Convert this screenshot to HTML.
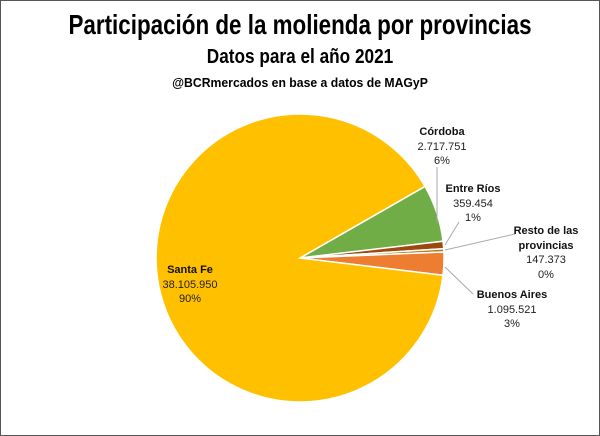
<!DOCTYPE html>
<html><head><meta charset="utf-8"><style>
body{margin:0;background:#fff}
.f{position:relative;width:598px;height:434px;border:1px solid #555;overflow:hidden;font-family:"Liberation Sans",sans-serif}
.t{position:absolute;left:0;width:598px;text-align:center;font-weight:bold;color:#000;font-family:"Liberation Sans Narrow","Liberation Sans",sans-serif}
.l{position:absolute;text-align:center;font-size:11px;line-height:14.5px;color:#222;width:120px}
.l b{color:#111}
</style></head><body><div class="f">
<div class="t" style="top:8px;font-size:28px;transform:scaleX(0.80)">Participación de la molienda por provincias</div>
<div class="t" style="top:45px;font-size:20px;transform:scaleX(0.86)">Datos para el año 2021</div>
<div class="t" style="top:74px;font-size:13px;transform:scaleX(0.94)">@BCRmercados en base a datos de MAGyP</div>
<svg width="598" height="434" style="position:absolute;left:0;top:0">
<g stroke="#fff" stroke-width="1.5">
<path d="M299,257 L424,185.4 A144,144 0 0 1 442,240.2 Z" fill="#70AD47"/>
<path d="M299,257 L442,240.2 A144,144 0 0 1 442.7,247.7 Z" fill="#9E480E"/>
<path d="M299,257 L442.7,247.7 A144,144 0 0 1 442.9,251 Z" fill="#B08020"/>
<path d="M299,257 L442.9,251 A144,144 0 0 1 442,274.3 Z" fill="#ED7D31"/>
<path d="M299,257 L442,274.3 A144,144 0 1 1 424,185.4 Z" fill="#FFC000"/>
</g>
<g stroke="#aaa" stroke-width="1" fill="none">
<polyline points="436,166 436,222"/>
<polyline points="458,221 444,244"/>
<polyline points="514,233 444,249"/>
<polyline points="472,293 444,266"/>
</g>
</svg>
<div class="l" style="left:381px;top:124px"><b>Córdoba</b><br>2.717.751<br>6%</div>
<div class="l" style="left:412px;top:181px"><b>Entre Ríos</b><br>359.454<br>1%</div>
<div class="l" style="left:485px;top:223px"><b>Resto de las<br>provincias</b><br>147.373<br>0%</div>
<div class="l" style="left:451px;top:287px"><b>Buenos Aires</b><br>1.095.521<br>3%</div>
<div class="l" style="left:129px;top:262px"><b>Santa Fe</b><br>38.105.950<br>90%</div>
</div></body></html>
